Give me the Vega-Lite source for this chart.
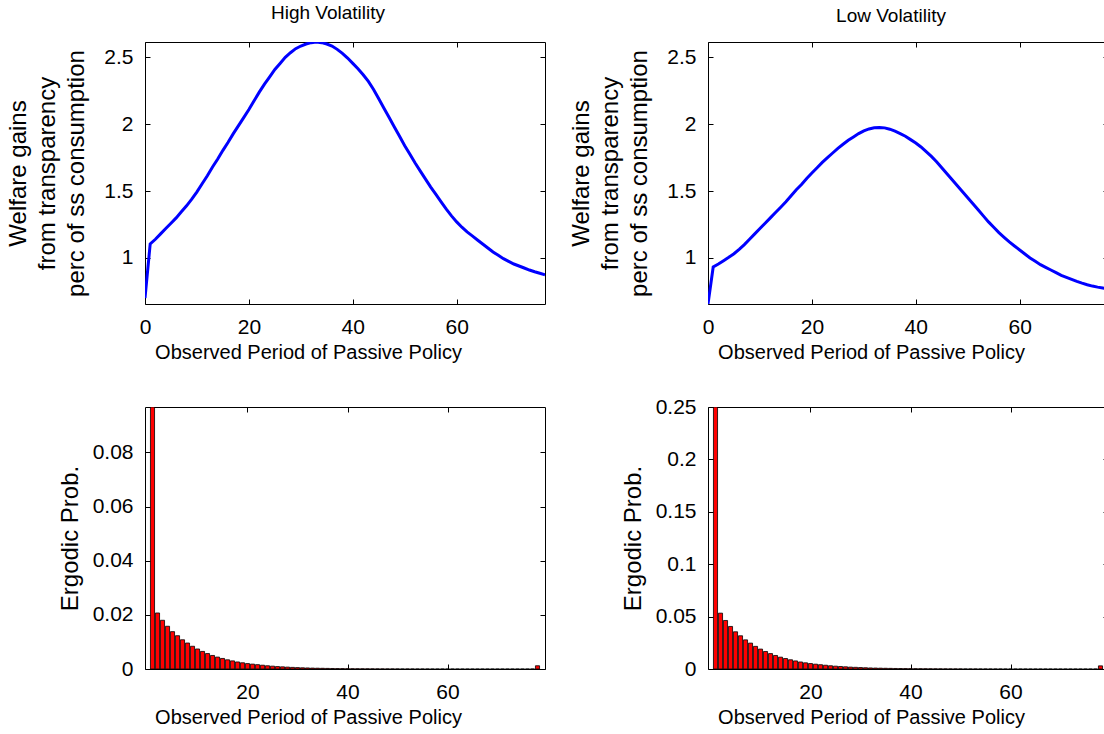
{
  "$schema": "https://vega.github.io/schema/vega-lite/v6.json",
  "padding": {"left": 6, "top": 3, "right": 0, "bottom": 0},
  "background": "white",
  "datasets": {
    "high": [
      {"period":0,"gain":0.70},{"period":1,"gain":1.105},{"period":2,"gain":1.14},{"period":3,"gain":1.18},{"period":4,"gain":1.22},{"period":5,"gain":1.26},{"period":6,"gain":1.30},{"period":7,"gain":1.345},{"period":8,"gain":1.39},{"period":9,"gain":1.44},
      {"period":10,"gain":1.495},{"period":11,"gain":1.555},{"period":12,"gain":1.615},{"period":13,"gain":1.68},{"period":14,"gain":1.74},{"period":15,"gain":1.805},{"period":16,"gain":1.865},{"period":17,"gain":1.93},{"period":18,"gain":1.99},{"period":19,"gain":2.05},
      {"period":20,"gain":2.11},{"period":21,"gain":2.175},{"period":22,"gain":2.24},{"period":23,"gain":2.30},{"period":24,"gain":2.355},{"period":25,"gain":2.41},{"period":26,"gain":2.455},{"period":27,"gain":2.50},{"period":28,"gain":2.535},{"period":29,"gain":2.565},
      {"period":30,"gain":2.585},{"period":31,"gain":2.60},{"period":32,"gain":2.61},{"period":33,"gain":2.615},{"period":34,"gain":2.61},{"period":35,"gain":2.60},{"period":36,"gain":2.585},{"period":37,"gain":2.56},{"period":38,"gain":2.53},{"period":39,"gain":2.495},
      {"period":40,"gain":2.455},{"period":41,"gain":2.415},{"period":42,"gain":2.37},{"period":43,"gain":2.32},{"period":44,"gain":2.26},{"period":45,"gain":2.19},{"period":46,"gain":2.12},{"period":47,"gain":2.05},{"period":48,"gain":1.98},{"period":49,"gain":1.91},
      {"period":50,"gain":1.84},{"period":51,"gain":1.775},{"period":52,"gain":1.71},{"period":53,"gain":1.65},{"period":54,"gain":1.59},{"period":55,"gain":1.53},{"period":56,"gain":1.475},{"period":57,"gain":1.42},{"period":58,"gain":1.365},{"period":59,"gain":1.315},
      {"period":60,"gain":1.27},{"period":61,"gain":1.23},{"period":62,"gain":1.195},{"period":63,"gain":1.165},{"period":64,"gain":1.135},{"period":65,"gain":1.105},{"period":66,"gain":1.075},{"period":67,"gain":1.045},{"period":68,"gain":1.02},{"period":69,"gain":0.995},
      {"period":70,"gain":0.975},{"period":71,"gain":0.955},{"period":72,"gain":0.94},{"period":73,"gain":0.925},{"period":74,"gain":0.91},{"period":75,"gain":0.897},{"period":76,"gain":0.886},{"period":77,"gain":0.875}
    ],
    "low": [
      {"period":0,"gain":0.656},{"period":1,"gain":0.933},{"period":2,"gain":0.955},{"period":3,"gain":0.98},{"period":4,"gain":1.005},{"period":5,"gain":1.032},{"period":6,"gain":1.065},{"period":7,"gain":1.10},{"period":8,"gain":1.14},{"period":9,"gain":1.18},
      {"period":10,"gain":1.22},{"period":11,"gain":1.26},{"period":12,"gain":1.30},{"period":13,"gain":1.34},{"period":14,"gain":1.38},{"period":15,"gain":1.42},{"period":16,"gain":1.465},{"period":17,"gain":1.51},{"period":18,"gain":1.55},{"period":19,"gain":1.595},
      {"period":20,"gain":1.635},{"period":21,"gain":1.675},{"period":22,"gain":1.715},{"period":23,"gain":1.75},{"period":24,"gain":1.785},{"period":25,"gain":1.82},{"period":26,"gain":1.85},{"period":27,"gain":1.88},{"period":28,"gain":1.905},{"period":29,"gain":1.93},
      {"period":30,"gain":1.95},{"period":31,"gain":1.965},{"period":32,"gain":1.973},{"period":33,"gain":1.976},{"period":34,"gain":1.973},{"period":35,"gain":1.963},{"period":36,"gain":1.948},{"period":37,"gain":1.93},{"period":38,"gain":1.91},{"period":39,"gain":1.885},
      {"period":40,"gain":1.86},{"period":41,"gain":1.83},{"period":42,"gain":1.795},{"period":43,"gain":1.76},{"period":44,"gain":1.72},{"period":45,"gain":1.675},{"period":46,"gain":1.63},{"period":47,"gain":1.585},{"period":48,"gain":1.54},{"period":49,"gain":1.495},
      {"period":50,"gain":1.45},{"period":51,"gain":1.405},{"period":52,"gain":1.36},{"period":53,"gain":1.315},{"period":54,"gain":1.27},{"period":55,"gain":1.23},{"period":56,"gain":1.19},{"period":57,"gain":1.155},{"period":58,"gain":1.12},{"period":59,"gain":1.09},
      {"period":60,"gain":1.06},{"period":61,"gain":1.03},{"period":62,"gain":1.0},{"period":63,"gain":0.975},{"period":64,"gain":0.95},{"period":65,"gain":0.93},{"period":66,"gain":0.91},{"period":67,"gain":0.89},{"period":68,"gain":0.87},{"period":69,"gain":0.855},
      {"period":70,"gain":0.84},{"period":71,"gain":0.825},{"period":72,"gain":0.812},{"period":73,"gain":0.80},{"period":74,"gain":0.79},{"period":75,"gain":0.782},{"period":76,"gain":0.775},{"period":77,"gain":0.768}
    ],
    "ergHigh": [
      {"period":1,"prob":0.0968},{"period":2,"prob":0.0207},{"period":3,"prob":0.0180},{"period":4,"prob":0.0158},{"period":5,"prob":0.0138},{"period":6,"prob":0.0123},{"period":7,"prob":0.0108},{"period":8,"prob":0.0096},{"period":9,"prob":0.0084},{"period":10,"prob":0.0074},
      {"period":11,"prob":0.0065},{"period":12,"prob":0.0057},{"period":13,"prob":0.0050},{"period":14,"prob":0.0044},{"period":15,"prob":0.0039},{"period":16,"prob":0.0034},{"period":17,"prob":0.0030},{"period":18,"prob":0.0026},{"period":19,"prob":0.0023},{"period":20,"prob":0.0020},
      {"period":21,"prob":0.0018},{"period":22,"prob":0.0016},{"period":23,"prob":0.0014},{"period":24,"prob":0.0012},{"period":25,"prob":0.00105},{"period":26,"prob":0.0009},{"period":27,"prob":0.0008},{"period":28,"prob":0.0007},{"period":29,"prob":0.0006},{"period":30,"prob":0.00052},
      {"period":31,"prob":0.00045},{"period":32,"prob":0.00039},{"period":33,"prob":0.00034},{"period":34,"prob":0.0003},{"period":35,"prob":0.00026},{"period":36,"prob":0.00022},{"period":37,"prob":0.00019},{"period":38,"prob":0.00016},{"period":39,"prob":0.00014},{"period":40,"prob":0.00012},
      {"period":41,"prob":0.0001},{"period":42,"prob":0.00009},{"period":43,"prob":0.00008},{"period":44,"prob":0.00007},{"period":45,"prob":0.00006},{"period":46,"prob":0.00005},{"period":47,"prob":0.000045},{"period":48,"prob":0.00004},{"period":49,"prob":0.000035},{"period":50,"prob":0.00003},
      {"period":51,"prob":0.000026},{"period":52,"prob":0.000022},{"period":53,"prob":0.00002},{"period":54,"prob":0.000017},{"period":55,"prob":0.000015},{"period":56,"prob":0.000013},{"period":57,"prob":0.000011},{"period":58,"prob":0.00001},{"period":59,"prob":0.000009},{"period":60,"prob":0.000008},
      {"period":61,"prob":0.000007},{"period":62,"prob":0.000006},{"period":63,"prob":0.000005},{"period":64,"prob":0.0000045},{"period":65,"prob":0.000004},{"period":66,"prob":0.0000035},{"period":67,"prob":0.000003},{"period":68,"prob":0.0000026},{"period":69,"prob":0.0000022},{"period":70,"prob":0.000002},
      {"period":71,"prob":0.0000017},{"period":72,"prob":0.0000015},{"period":73,"prob":0.0000013},{"period":74,"prob":0.0000011},{"period":75,"prob":0.000001},{"period":76,"prob":0.0000009},{"period":77,"prob":0.0000008},{"period":78,"prob":0.0012}
    ],
    "ergLow": [
      {"period":1,"prob":0.25},{"period":2,"prob":0.0533},{"period":3,"prob":0.0463},{"period":4,"prob":0.0406},{"period":5,"prob":0.0355},{"period":6,"prob":0.0317},{"period":7,"prob":0.0278},{"period":8,"prob":0.0247},{"period":9,"prob":0.0216},{"period":10,"prob":0.0190},
      {"period":11,"prob":0.0167},{"period":12,"prob":0.0147},{"period":13,"prob":0.0129},{"period":14,"prob":0.0113},{"period":15,"prob":0.0100},{"period":16,"prob":0.0088},{"period":17,"prob":0.0077},{"period":18,"prob":0.0067},{"period":19,"prob":0.0059},{"period":20,"prob":0.0052},
      {"period":21,"prob":0.0046},{"period":22,"prob":0.0041},{"period":23,"prob":0.0036},{"period":24,"prob":0.0031},{"period":25,"prob":0.0027},{"period":26,"prob":0.0024},{"period":27,"prob":0.0021},{"period":28,"prob":0.0018},{"period":29,"prob":0.0016},{"period":30,"prob":0.0014},
      {"period":31,"prob":0.0012},{"period":32,"prob":0.0010},{"period":33,"prob":0.0009},{"period":34,"prob":0.0008},{"period":35,"prob":0.0007},{"period":36,"prob":0.0006},{"period":37,"prob":0.0005},{"period":38,"prob":0.00045},{"period":39,"prob":0.0004},{"period":40,"prob":0.00035},
      {"period":41,"prob":0.0003},{"period":42,"prob":0.00026},{"period":43,"prob":0.00023},{"period":44,"prob":0.0002},{"period":45,"prob":0.00017},{"period":46,"prob":0.00015},{"period":47,"prob":0.00013},{"period":48,"prob":0.00011},{"period":49,"prob":0.0001},{"period":50,"prob":0.00009},
      {"period":51,"prob":0.00008},{"period":52,"prob":0.00007},{"period":53,"prob":0.00006},{"period":54,"prob":0.00005},{"period":55,"prob":0.000045},{"period":56,"prob":0.00004},{"period":57,"prob":0.000035},{"period":58,"prob":0.00003},{"period":59,"prob":0.000026},{"period":60,"prob":0.000022},
      {"period":61,"prob":0.00002},{"period":62,"prob":0.000017},{"period":63,"prob":0.000015},{"period":64,"prob":0.000013},{"period":65,"prob":0.000011},{"period":66,"prob":0.00001},{"period":67,"prob":0.000009},{"period":68,"prob":0.000008},{"period":69,"prob":0.000007},{"period":70,"prob":0.000006},
      {"period":71,"prob":0.000005},{"period":72,"prob":0.0000045},{"period":73,"prob":0.000004},{"period":74,"prob":0.0000035},{"period":75,"prob":0.000003},{"period":76,"prob":0.0000026},{"period":77,"prob":0.0000022},{"period":78,"prob":0.003}
    ]
  },
  "columns": 2,
  "spacing": {"row": 103, "column": 163},
  "bounds": "flush",
  "concat": [
    {
      "width": 400, "height": 262,
      "title": {"text": "High Volatility"},
      "data": {"name": "high"},
      "resolve": {"axis": {"x": "independent", "y": "independent"}},
      "layer": [
        {
          "mark": {"type": "line", "color": "#0000FF", "strokeWidth": 3, "clip": true},
          "encoding": {
            "x": {"field": "period", "type": "quantitative", "scale": {"domain": [0, 77], "nice": false, "zero": false},
                  "axis": {"orient": "bottom", "values": [0, 20, 40, 60], "ticks": false, "title": "Observed Period of Passive Policy", "titleX": 163, "titlePadding": 5}},
            "y": {"field": "gain", "type": "quantitative", "scale": {"domain": [0.656, 2.615], "nice": false, "zero": false},
                  "axis": {"orient": "left", "values": [1, 1.5, 2, 2.5], "format": "~g", "ticks": false, "title": ["Welfare gains", "from transparency", "perc of ss consumption"], "titleFontSize": 24, "titleLineHeight": 29, "titlePadding": 15}}
          }
        },
        {
          "mark": {"type": "point", "opacity": 0},
          "encoding": {
            "x": {"field": "period", "type": "quantitative", "scale": {"domain": [0, 77], "nice": false, "zero": false},
                  "axis": {"orient": "bottom", "offset": -5, "values": [0, 20, 40, 60], "labels": false, "ticks": true, "tickSize": 5, "title": null}},
            "y": {"field": "gain", "type": "quantitative", "scale": {"domain": [0.656, 2.615], "nice": false, "zero": false},
                  "axis": {"orient": "left", "offset": -5, "values": [1, 1.5, 2, 2.5], "labels": false, "ticks": true, "tickSize": 5, "title": null}}
          }
        },
        {
          "mark": {"type": "point", "opacity": 0},
          "encoding": {
            "x": {"field": "period", "type": "quantitative", "scale": {"domain": [0, 77], "nice": false, "zero": false},
                  "axis": {"orient": "top", "offset": -5, "values": [0, 20, 40, 60], "labels": false, "ticks": true, "tickSize": 5, "title": null}},
            "y": {"field": "gain", "type": "quantitative", "scale": {"domain": [0.656, 2.615], "nice": false, "zero": false},
                  "axis": {"orient": "right", "offset": -5, "values": [1, 1.5, 2, 2.5], "labels": false, "ticks": true, "tickSize": 5, "title": null}}
          }
        }
      ]
    },
    {
      "width": 400, "height": 262,
      "title": {"text": "Low Volatility"},
      "data": {"name": "low"},
      "resolve": {"axis": {"x": "independent", "y": "independent"}},
      "layer": [
        {
          "mark": {"type": "line", "color": "#0000FF", "strokeWidth": 3, "clip": true},
          "encoding": {
            "x": {"field": "period", "type": "quantitative", "scale": {"domain": [0, 77], "nice": false, "zero": false},
                  "axis": {"orient": "bottom", "values": [0, 20, 40, 60], "ticks": false, "title": "Observed Period of Passive Policy", "titleX": 163, "titlePadding": 5}},
            "y": {"field": "gain", "type": "quantitative", "scale": {"domain": [0.656, 2.615], "nice": false, "zero": false},
                  "axis": {"orient": "left", "values": [1, 1.5, 2, 2.5], "format": "~g", "ticks": false, "title": ["Welfare gains", "from transparency", "perc of ss consumption"], "titleFontSize": 24, "titleLineHeight": 29, "titlePadding": 15}}
          }
        },
        {
          "mark": {"type": "point", "opacity": 0},
          "encoding": {
            "x": {"field": "period", "type": "quantitative", "scale": {"domain": [0, 77], "nice": false, "zero": false},
                  "axis": {"orient": "bottom", "offset": -5, "values": [0, 20, 40, 60], "labels": false, "ticks": true, "tickSize": 5, "title": null}},
            "y": {"field": "gain", "type": "quantitative", "scale": {"domain": [0.656, 2.615], "nice": false, "zero": false},
                  "axis": {"orient": "left", "offset": -5, "values": [1, 1.5, 2, 2.5], "labels": false, "ticks": true, "tickSize": 5, "title": null}}
          }
        },
        {
          "mark": {"type": "point", "opacity": 0},
          "encoding": {
            "x": {"field": "period", "type": "quantitative", "scale": {"domain": [0, 77], "nice": false, "zero": false},
                  "axis": {"orient": "top", "offset": -5, "values": [0, 20, 40, 60], "labels": false, "ticks": true, "tickSize": 5, "title": null}},
            "y": {"field": "gain", "type": "quantitative", "scale": {"domain": [0.656, 2.615], "nice": false, "zero": false},
                  "axis": {"orient": "right", "offset": -5, "values": [1, 1.5, 2, 2.5], "labels": false, "ticks": true, "tickSize": 5, "title": null}}
          }
        }
      ]
    },
    {
      "width": 400, "height": 262,
      "data": {"name": "ergHigh"},
      "resolve": {"axis": {"x": "independent", "y": "independent"}},
      "layer": [
        {
          "mark": {"type": "bar", "color": "#FF0000", "stroke": "black", "strokeWidth": 0.8, "width": 4.1, "clip": true},
          "encoding": {
            "x": {"field": "period", "type": "quantitative", "scale": {"domain": [0.5, 78.5], "nice": false, "zero": false},
                  "axis": {"orient": "bottom", "values": [20, 40, 60], "ticks": false, "title": "Observed Period of Passive Policy", "titleX": 163, "titlePadding": 5}},
            "y": {"field": "prob", "type": "quantitative", "scale": {"domain": [0, 0.0968], "nice": false},
                  "axis": {"orient": "left", "values": [0, 0.02, 0.04, 0.06, 0.08], "format": "~g", "ticks": false, "title": "Ergodic Prob.", "titleFontSize": 24, "titlePadding": 10}}
          }
        },
        {
          "mark": {"type": "point", "opacity": 0},
          "encoding": {
            "x": {"field": "period", "type": "quantitative", "scale": {"domain": [0.5, 78.5], "nice": false, "zero": false},
                  "axis": {"orient": "bottom", "offset": -5, "values": [20, 40, 60], "labels": false, "ticks": true, "tickSize": 5, "title": null}},
            "y": {"field": "prob", "type": "quantitative", "scale": {"domain": [0, 0.0968], "nice": false},
                  "axis": {"orient": "left", "offset": -5, "values": [0, 0.02, 0.04, 0.06, 0.08], "labels": false, "ticks": true, "tickSize": 5, "title": null}}
          }
        },
        {
          "mark": {"type": "point", "opacity": 0},
          "encoding": {
            "x": {"field": "period", "type": "quantitative", "scale": {"domain": [0.5, 78.5], "nice": false, "zero": false},
                  "axis": {"orient": "top", "offset": -5, "values": [20, 40, 60], "labels": false, "ticks": true, "tickSize": 5, "title": null}},
            "y": {"field": "prob", "type": "quantitative", "scale": {"domain": [0, 0.0968], "nice": false},
                  "axis": {"orient": "right", "offset": -5, "values": [0, 0.02, 0.04, 0.06, 0.08], "labels": false, "ticks": true, "tickSize": 5, "title": null}}
          }
        }
      ]
    },
    {
      "width": 400, "height": 262,
      "data": {"name": "ergLow"},
      "resolve": {"axis": {"x": "independent", "y": "independent"}},
      "layer": [
        {
          "mark": {"type": "bar", "color": "#FF0000", "stroke": "black", "strokeWidth": 0.8, "width": 4.1, "clip": true},
          "encoding": {
            "x": {"field": "period", "type": "quantitative", "scale": {"domain": [0.5, 78.5], "nice": false, "zero": false},
                  "axis": {"orient": "bottom", "values": [20, 40, 60], "ticks": false, "title": "Observed Period of Passive Policy", "titleX": 163, "titlePadding": 5}},
            "y": {"field": "prob", "type": "quantitative", "scale": {"domain": [0, 0.25], "nice": false},
                  "axis": {"orient": "left", "values": [0, 0.05, 0.1, 0.15, 0.2, 0.25], "format": "~g", "ticks": false, "title": "Ergodic Prob.", "titleFontSize": 24, "titlePadding": 10}}
          }
        },
        {
          "mark": {"type": "point", "opacity": 0},
          "encoding": {
            "x": {"field": "period", "type": "quantitative", "scale": {"domain": [0.5, 78.5], "nice": false, "zero": false},
                  "axis": {"orient": "bottom", "offset": -5, "values": [20, 40, 60], "labels": false, "ticks": true, "tickSize": 5, "title": null}},
            "y": {"field": "prob", "type": "quantitative", "scale": {"domain": [0, 0.25], "nice": false},
                  "axis": {"orient": "left", "offset": -5, "values": [0, 0.05, 0.1, 0.15, 0.2, 0.25], "labels": false, "ticks": true, "tickSize": 5, "title": null}}
          }
        },
        {
          "mark": {"type": "point", "opacity": 0},
          "encoding": {
            "x": {"field": "period", "type": "quantitative", "scale": {"domain": [0.5, 78.5], "nice": false, "zero": false},
                  "axis": {"orient": "top", "offset": -5, "values": [20, 40, 60], "labels": false, "ticks": true, "tickSize": 5, "title": null}},
            "y": {"field": "prob", "type": "quantitative", "scale": {"domain": [0, 0.25], "nice": false},
                  "axis": {"orient": "right", "offset": -5, "values": [0, 0.05, 0.1, 0.15, 0.2, 0.25], "labels": false, "ticks": true, "tickSize": 5, "title": null}}
          }
        }
      ]
    }
  ],
  "config": {
    "font": "Liberation Sans",
    "view": {"stroke": "black", "strokeWidth": 1},
    "axis": {
      "grid": false, "domain": false,
      "labelFont": "Liberation Sans", "labelFontSize": 21, "labelColor": "black", "labelPadding": 12,
      "labelFlush": false, "labelOverlap": false,
      "titleFont": "Liberation Sans", "titleFontSize": 20, "titleColor": "black", "titleFontWeight": "normal",
      "tickColor": "black", "tickWidth": 1
    },
    "title": {"font": "Liberation Sans", "fontSize": 19, "fontWeight": "normal", "color": "black", "offset": 16, "dx": -17}
  }
}
